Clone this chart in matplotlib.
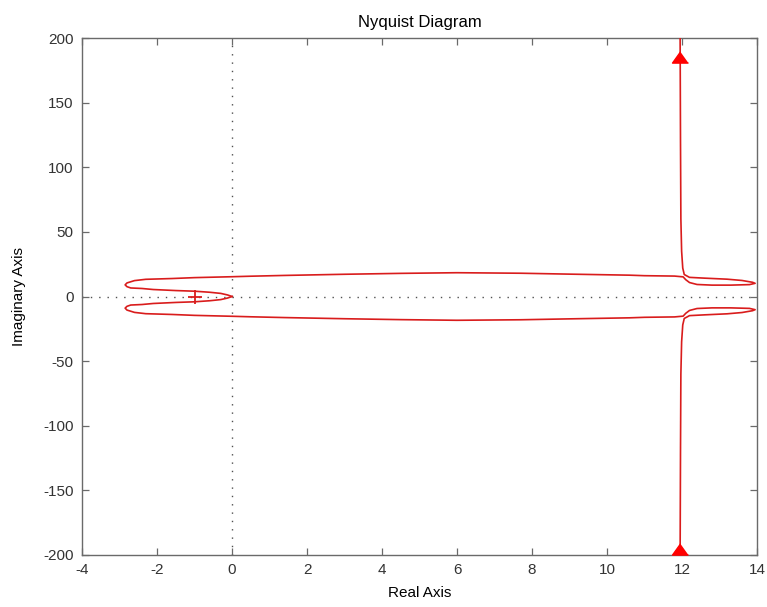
import numpy as np
import matplotlib.pyplot as plt

plt.rcParams['font.family'] = ['Liberation Sans', 'DejaVu Sans']

# upper half of the Nyquist curve, from the asymptote at the top down to the origin
re_upper = [11.95, 11.96, 11.97, 11.99, 12.02, 12.06,
            12.2, 12.6, 13.2, 13.6, 13.88, 13.95,
            13.8, 13.3, 12.8, 12.4, 12.2, 12.1, 12.03,
            11.8, 11.0, 10.6, 9.0, 7.7, 6.0, 4.5, 3.0, 1.4, 0.5, 0.0,
            -1.0, -1.6, -2.3, -2.6, -2.8, -2.85,
            -2.8, -2.7, -2.4, -2.1, -1.5, -1.0, -0.6, -0.3, -0.12, 0.0]
im_upper = [200, 120, 60, 35, 22, 17,
            14.8, 14.2, 13.4, 12.4, 11.0, 10.2,
            9.2, 8.8, 8.8, 9.3, 10.8, 13.0, 15.2,
            15.8, 16.1, 16.5, 17.3, 18.0, 18.4, 17.9, 17.2, 16.3, 15.7, 15.3,
            14.6, 13.9, 13.3, 12.3, 10.5, 9.0,
            7.6, 6.6, 6.2, 5.4, 4.6, 4.1, 3.3, 2.4, 1.2, 0.0]

# direction arrows on the two branches
arrow_re = [11.95, 11.95]
arrow_im = [185, -195]

x_ticks = [-4, -2, 0, 2, 4, 6, 8, 10, 12, 14]
y_ticks = [-200, -150, -100, -50, 0, 50, 100, 150, 200]

line_col = '#d91c1c'
axis_col = '#6a6a6a'

fig = plt.figure(figsize=(7.67, 6.07), dpi=100)
ax = fig.add_axes([82 / 767, 52 / 607, 675 / 767, 517 / 607])

# dotted lines through the origin
ax.axhline(0, color='#505050', lw=1.0, ls=(0, (1, 5)), zorder=1)
ax.axvline(0, color='#505050', lw=1.0, ls=(0, (1, 5)), zorder=1)

re_u = np.array(re_upper)
im_u = np.array(im_upper)
ax.plot(re_u, im_u, color=line_col, lw=1.2, zorder=3)
# mirror image for the other frequency branch
ax.plot(re_u, -im_u, color=line_col, lw=1.2, zorder=3)

tri = [(0, 0.7), (-1, -0.7), (1, -0.7)]
ax.plot(arrow_re, arrow_im, ls='none', marker=tri, ms=11.5,
        color='red', mec='red', zorder=4)

# critical point -1
ax.plot([-1], [0], marker='+', ms=10, mew=1.3, color=line_col, zorder=4)

ax.set_xlim(-4, 14)
ax.set_ylim(-200, 200)
ax.set_xticks(x_ticks)
ax.set_yticks(y_ticks)
ax.set_xticklabels([str(t) for t in x_ticks])
ax.set_yticklabels([str(t) for t in y_ticks])

ax.tick_params(direction='in', length=5, width=0.9, color=axis_col,
               labelcolor='#333333', labelsize=11, top=True, right=True)
ax.tick_params(axis='x', pad=6)
ax.tick_params(axis='y', pad=6)
for sp in ax.spines.values():
    sp.set_color(axis_col)
    sp.set_linewidth(1.0)

ax.set_title('Nyquist Diagram', fontsize=12, pad=8)
ax.set_xlabel('Real Axis', fontsize=11, labelpad=6)
ax.set_ylabel('Imaginary Axis', fontsize=11, labelpad=12)

fig.savefig('out.png', dpi=100)
